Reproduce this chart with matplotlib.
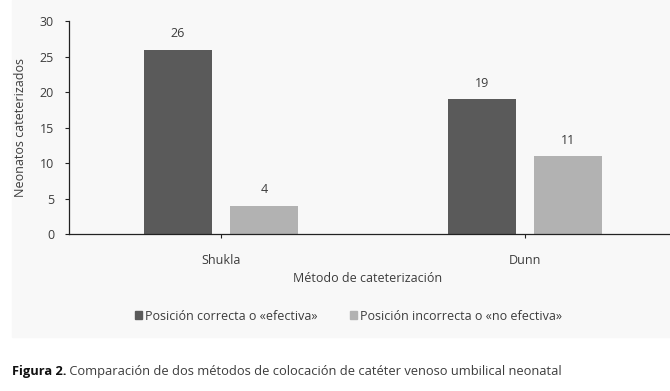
import matplotlib.pyplot as plt
from matplotlib.patches import Patch, Rectangle
import numpy as np

# Datos
metodos = ['Shukla', 'Dunn']
efectiva = [26, 19]
no_efectiva = [4, 11]
series_names = ['Posición correcta o «efectiva»', 'Posición incorrecta o «no efectiva»']
yticks = [0, 5, 10, 15, 20, 25, 30]

dark = '#5a5a5a'
light = '#b2b2b2'
txt = '#3c3c3c'
fs = 9

plt.rcParams['font.family'] = ['Open Sans', 'DejaVu Sans']
plt.rcParams['font.size'] = fs

fig = plt.figure(figsize=(6.7, 3.91), dpi=100)

# fondo gris muy claro del area del grafico
bg = Rectangle((12 / 670, 1 - 337 / 391), 1, 337 / 391,
               transform=fig.transFigure, color='#f8f8f8', zorder=-10)
fig.patches.append(bg)

ax = fig.add_axes([69.3 / 670, 1 - 234.3 / 391, 607.7 / 670, 213 / 391])
ax.set_facecolor('none')

x = np.arange(len(metodos))
w = 0.224
off = 0.142
b1 = ax.bar(x - off, efectiva, w, color=dark)
b2 = ax.bar(x + off, no_efectiva, w, color=light)

for bars, vals in ((b1, efectiva), (b2, no_efectiva)):
    for r, v in zip(bars, vals):
        ax.annotate(str(v), (r.get_x() + r.get_width() / 2, v),
                    xytext=(0, 11.5), textcoords='offset points',
                    ha='center', va='center', color=txt, fontsize=fs)

ax.set_xlim(-0.5, 1.5)
ax.set_ylim(0, 30)
ax.set_yticks(yticks)
ax.set_xticks(x)
ax.set_xticklabels(metodos)

for s in ('top', 'right'):
    ax.spines[s].set_visible(False)
for s in ('left', 'bottom'):
    ax.spines[s].set_color('#222222')
    ax.spines[s].set_linewidth(0.9)
ax.tick_params(axis='y', length=3, width=0.8, pad=8, colors='#222222', labelcolor=txt)
ax.tick_params(axis='x', length=3, width=0.8, pad=11, colors='#222222', labelcolor=txt)

ax.set_ylabel('Neonatos cateterizados', color=txt, fontsize=fs)
ax.yaxis.set_label_coords(-0.0696, 0.5)
ax.set_xlabel('Método de cateterización', color=txt, fontsize=fs)
ax.xaxis.set_label_coords(0.4915, -0.178)

handles = [Patch(color=dark), Patch(color=light)]
fig.legend(handles, series_names, loc='center', bbox_to_anchor=(348.5 / 670, 1 - 316 / 391),
           ncol=2, frameon=False, handlelength=0.55, handleheight=0.55,
           handletextpad=0.25, columnspacing=2.6, fontsize=fs, labelcolor=txt)

t1 = fig.text(12 / 670, 1 - 372 / 391, 'Figura 2.', fontweight='bold', fontsize=9.3,
              va='center', ha='left', color='#111111')
ax.annotate(' Comparación de dos métodos de colocación de catéter venoso umbilical neonatal',
            xy=(1, 0), xycoords=t1, va='bottom', ha='left', fontsize=9.3, color=txt,
            annotation_clip=False)

fig.savefig('out.png', dpi=100)
